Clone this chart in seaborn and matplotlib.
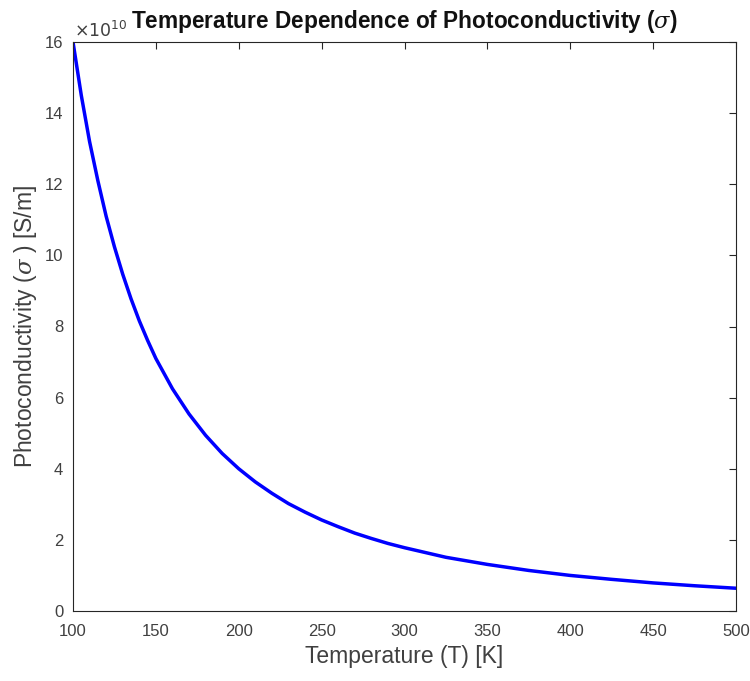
import numpy as np
import pandas as pd
import matplotlib
matplotlib.use("Agg")
import matplotlib.pyplot as plt
import seaborn as sns
from matplotlib.ticker import FuncFormatter

# values (sigma in units of 1e10 S/m)
temperature = [100, 105, 110, 115, 120, 125, 130, 135, 140, 145, 150, 160, 170, 180, 190, 200,
               210, 220, 230, 240, 250, 260, 270, 280, 290, 300,
               325, 350, 375, 400, 425, 450, 475, 500]
sigma_e10 = [16.0, 14.5, 13.2, 12.1, 11.1, 10.24, 9.47, 8.78, 8.16, 7.61, 7.1, 6.25, 5.54, 4.94, 4.43, 4.0,
             3.63, 3.31, 3.02, 2.78, 2.56, 2.37, 2.19, 2.04, 1.90, 1.78,
             1.51, 1.31, 1.14, 1.0, 0.89, 0.79, 0.71, 0.64]

df = pd.DataFrame({'T': temperature, 'sigma': np.array(sigma_e10) * 1e10})

sns.set_style("white")
plt.rcParams['font.family'] = ['Liberation Sans', 'DejaVu Sans']
plt.rcParams['mathtext.fontset'] = 'dejavuserif'

fig = plt.figure(figsize=(7.5, 6.81), dpi=100)
ax = fig.add_axes([73 / 750, 1 - 611 / 681, 663 / 750, 569 / 681])

sns.lineplot(data=df, x='T', y='sigma', ax=ax, color=(0, 0, 1), linewidth=2.5)

ax.set_xlim(100, 500)
ax.set_ylim(0, 16e10)
ax.set_xticks(np.arange(100, 501, 50))
ax.set_yticks(np.arange(0, 16.1, 2) * 1e10)
ax.yaxis.set_major_formatter(FuncFormatter(lambda v, p: f'{v / 1e10:g}'))

for s in ax.spines.values():
    s.set_color('#262626')
    s.set_linewidth(0.8)
ax.tick_params(direction='in', length=5, width=0.8, colors='#262626',
               labelsize=12, top=True, right=True, labelcolor='#404040')
ax.tick_params(axis='x', pad=9)
ax.tick_params(axis='y', pad=7)

# exponent label in MATLAB style
ax.text(0.002, 1.004, r'$\mathsf{\times10^{10}}$', transform=ax.transAxes, fontsize=12.5,
        color='#404040', ha='left', va='bottom')

ax.set_xlabel('Temperature (T) [K]', fontsize=16.5, color='#404040', labelpad=5)
ax.set_ylabel(r'Photoconductivity ($\sigma$ ) [S/m]', fontsize=16.5, color='#404040', labelpad=4)
ax.set_title(r'Temperature Dependence of Photoconductivity ($\sigma$)',
             fontsize=16.3, fontweight='bold', color='#111111', pad=10, x=0.5)

fig.savefig('out.png', dpi=100)
